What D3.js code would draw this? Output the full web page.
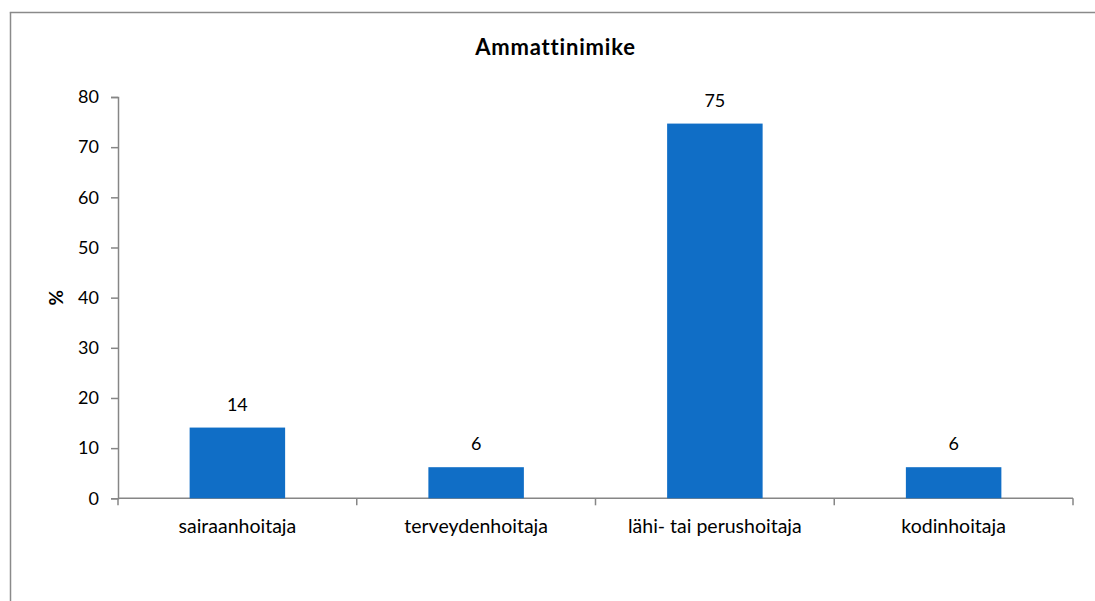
<!DOCTYPE html>
<html>
<head>
<meta charset="utf-8">
<script src="https://cdn.jsdelivr.net/npm/d3@7"></script>
<style>
  html, body { margin: 0; padding: 0; background: #fff; overflow: hidden; }
  svg { display: block; font-family: Lato, "Open Sans", sans-serif; }
</style>
</head>
<body>
<svg id="chart" width="1095" height="601"></svg>
<script>
// Job title distribution (%)
const categories = ["sairaanhoitaja", "terveydenhoitaja", "lähi- tai perushoitaja", "kodinhoitaja"];
const values = [14.1, 6.2, 74.7, 6.2];
const yTicks = [0, 10, 20, 30, 40, 50, 60, 70, 80];
const title = "Ammattinimike";
const yLabel = "%";

const svg = d3.select("#chart");
const margin = { left: 118, right: 22, top: 97, bottom: 102.7 };
const W = 1095, H = 601;

// outer chart frame (top and left edges visible in the viewport)
const frame = svg.append("g").attr("stroke", "#8a8a8a").attr("stroke-width", 1.5);
frame.append("line").attr("x1", 9.75).attr("x2", W).attr("y1", 12.5).attr("y2", 12.5);
frame.append("line").attr("x1", 10.5).attr("x2", 10.5).attr("y1", 12.5).attr("y2", H);

const x = d3.scaleBand()
  .domain(categories)
  .range([margin.left, W - margin.right])
  .paddingInner(0.6).paddingOuter(0.3);

const y = d3.scaleLinear()
  .domain([0, 80])
  .range([H - margin.bottom, margin.top]);

const axisColor = "#868686";

// y axis
const yAxis = svg.append("g")
  .attr("transform", `translate(${margin.left},0)`)
  .call(d3.axisLeft(y).tickValues(yTicks).tickSize(7).tickPadding(12));
yAxis.select(".domain").attr("stroke", axisColor).attr("stroke-width", 1.5);
yAxis.selectAll(".tick line").attr("stroke", axisColor).attr("stroke-width", 1.5);
yAxis.selectAll(".tick text").attr("fill", "#000").style("font-size", "18px").style("font-family", "Lato, sans-serif");

// x axis with ticks at category boundaries
const xAxisY = y(0);
const xg = svg.append("g");
xg.append("line")
  .attr("x1", margin.left).attr("x2", W - margin.right)
  .attr("y1", xAxisY).attr("y2", xAxisY)
  .attr("stroke", axisColor).attr("stroke-width", 1.5);
const step = x.step();
const boundaries = d3.range(categories.length + 1).map(i => margin.left + i * step);
xg.selectAll("line.tick").data(boundaries).join("line")
  .attr("class", "tick")
  .attr("x1", d => d).attr("x2", d => d)
  .attr("y1", xAxisY).attr("y2", xAxisY + 7)
  .attr("stroke", axisColor).attr("stroke-width", 1.5);
xg.selectAll("text").data(categories).join("text")
  .attr("x", d => x(d) + x.bandwidth() / 2)
  .attr("y", xAxisY + 35)
  .attr("text-anchor", "middle")
  .style("font-size", "19.5px")
  .text(d => d);

// bars
const data = categories.map((c, i) => ({ c, v: values[i] }));
svg.append("g").selectAll("rect").data(data).join("rect")
  .attr("x", d => x(d.c))
  .attr("y", d => y(d.v))
  .attr("width", x.bandwidth())
  .attr("height", d => y(0) - y(d.v))
  .attr("fill", "#106ec6");

// value labels
svg.append("g").selectAll("text").data(data).join("text")
  .attr("x", d => x(d.c) + x.bandwidth() / 2)
  .attr("y", d => y(d.v) - 17)
  .attr("text-anchor", "middle")
  .style("font-size", "18px")
  .text(d => d3.format(".0f")(d.v));

// title
svg.append("text")
  .attr("x", 555.5).attr("y", 55)
  .attr("text-anchor", "middle")
  .style("font-size", "22px").style("font-weight", "bold")
  .style("letter-spacing", "0.8px")
  .text(title);

// y axis label
svg.append("text")
  .attr("transform", `translate(63,${(y(0) + y(80)) / 2}) rotate(-90)`)
  .attr("text-anchor", "middle")
  .style("font-size", "19px").style("font-weight", "bold")
  .text(yLabel);
</script>
</body>
</html>
